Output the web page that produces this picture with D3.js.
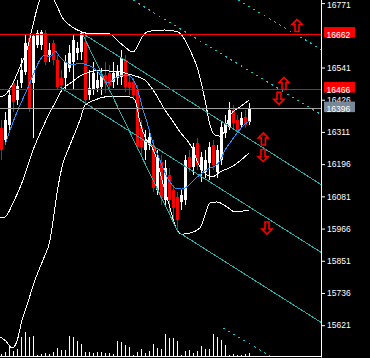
<!DOCTYPE html>
<html><head><meta charset="utf-8">
<script src="https://cdn.jsdelivr.net/npm/d3@7"></script>
<style>html,body{margin:0;padding:0;background:#000;overflow:hidden}</style>
</head><body><svg id="c" width="370" height="358"></svg>
<script>
// ---- data (prices) ----
const opens  = [16325,16282,16336,16486,16425,16486,16525,16646,16486,16621,16621,16664,16586,16628,16568,16504,16504,16539,16561,16593,16596,16632,16443,16461,16468,16471,16514,16521,16489,16504,16507,16568,16489,16489,16461,16329,16246,16264,16264,16104,16204,16068,16157,16104,16079,16061,16068,16221,16186,16271,16175,16168,16200,16264,16168,16211,16307,16329,16389,16354,16336,16364,16346];
const highs  = [16354,16382,16461,16496,16496,16575,16657,16657,16661,16675,16675,16675,16628,16639,16586,16532,16586,16621,16657,16632,16671,16664,16532,16561,16532,16539,16561,16550,16561,16550,16604,16586,16514,16504,16479,16354,16318,16318,16282,16246,16229,16211,16182,16121,16096,16104,16229,16246,16271,16289,16239,16246,16275,16282,16264,16346,16371,16418,16407,16371,16382,16389,16414];
const lows   = [16211,16264,16318,16382,16407,16468,16514,16382,16289,16611,16604,16550,16561,16550,16461,16461,16461,16525,16461,16568,16568,16414,16425,16443,16454,16443,16450,16454,16468,16479,16479,16454,16443,16425,16246,16229,16211,16246,16096,16086,16050,16050,16014,15989,15954,16032,16050,16168,16157,16175,16132,16146,16139,16175,16146,16193,16289,16318,16325,16307,16325,16325,16336];
const closes = [16246,16354,16443,16418,16475,16532,16628,16396,16653,16664,16668,16561,16604,16568,16471,16479,16561,16593,16639,16611,16664,16425,16468,16521,16496,16514,16486,16479,16521,16525,16575,16471,16468,16443,16257,16257,16282,16293,16111,16221,16075,16182,16068,16039,15996,16086,16211,16186,16257,16193,16221,16211,16257,16193,16246,16329,16343,16389,16343,16318,16361,16336,16396];
const volumes = [200,400,900,500,700,1900,2400,1900,2000,100,200,300,200,400,800,600,600,2000,1900,1500,1200,400,400,300,400,400,300,300,200,1500,1400,1100,900,100,400,700,300,500,1200,800,700,2200,1800,1800,1500,100,500,600,300,500,1000,700,700,2200,1900,1600,1100,100,200,100,100,200,300];

// Bollinger upper / middle / lower and moving average: [bar index, price]
const bandUpper = [[-0.25,16436],[1,16443],[3,16486],[4.75,16543],[6.5,16604],[8,16693],[9.25,16764],[10.25,16803],[11.75,16811],[13,16789],[14.25,16753],[15.25,16721],[17.75,16686],[20.25,16668],[22.25,16661],[27.25,16661],[29,16639],[31,16614],[33,16596],[34,16614],[35.25,16650],[37.25,16671],[41,16675],[44.25,16668],[46,16639],[47.25,16603],[49.25,16532],[51,16425],[52.25,16336],[53.5,16300],[54.75,16296],[56,16318],[57.25,16371],[59.75,16400],[62,16425]];
const bandMiddle = [[-0.25,16004],[1,16007],[3,16057],[5.5,16139],[8,16246],[10.5,16329],[12.25,16382],[13.5,16414],[14.75,16450],[16,16471],[17.75,16489],[19.75,16511],[22.25,16525],[24.75,16532],[27.25,16528],[29.75,16525],[32.75,16514],[36,16496],[38.5,16450],[41,16389],[42.75,16354],[44.75,16311],[47.75,16254],[49.25,16200],[51,16164],[52.75,16150],[54.75,16168],[58,16189],[62,16236]];
const bandLower = [[-0.25,15579],[1.25,15564],[2.75,15539],[4,15564],[5.25,15639],[6.5,15693],[8.5,15782],[10.5,15854],[12.25,15925],[13.5,16043],[14.25,16114],[15.25,16186],[17.25,16264],[19.75,16354],[21,16407],[23.5,16425],[26,16436],[29.25,16439],[32.25,16436],[33.5,16425],[34.75,16346],[36,16293],[37.75,16257],[39,16211],[40.25,16139],[41.5,16079],[42.75,16014],[44,15961],[45.25,15946],[47.25,15950],[49.75,15968],[51,16014],[52.25,16057],[54,16061],[56.5,16043],[58.5,16025],[60.25,16028],[62,16032]];
const movingAvg = [[1,16264],[3,16346],[4.75,16407],[6.5,16461],[8,16514],[9.75,16568],[11,16586],[12.25,16578],[13.5,16600],[14.75,16578],[16.5,16557],[17.75,16550],[19.75,16557],[21.5,16550],[22.75,16543],[24.25,16525],[25.5,16503],[26.5,16486],[27.25,16489],[28.5,16503],[30.25,16514],[31.5,16514],[32.75,16503],[33.5,16486],[34.75,16432],[35.5,16389],[36.5,16346],[37.25,16307],[38,16271],[39.25,16228],[40.5,16182],[42.25,16132],[43.5,16111],[45.25,16107],[46.75,16118],[48.5,16143],[50.25,16164],[52.25,16182],[53.5,16189],[54.75,16207],[56,16246],[57.75,16282],[59.25,16311],[61,16339],[62.25,16350]];

// trend lines: [startIndex, startPrice, endIndex, endPrice]
const solidTrends  = [[20.25,16664,80.25,16121],[20.25,16664,44.25,15954],[14.75,16471,80.25,15879],[44.25,15954,80.25,15629]];
const dashedTrends = [[33,16782,80.25,16371],[59.25,16782,80.25,16604],[55.5,15611,67.25,15511]];

const levelPrices = [16662, 16466];
const bidPrice = 16396;
const tickValues = [16771,16541,16426,16311,16196,16081,15966,15851,15736,15621];

const arrowIdx   = [74, 70.75, 69.5, 65.6, 65.5, 66.5];
const arrowPrice = [16691, 16484, 16431, 16286, 16227, 15968];
const arrowDir   = ["up","up","down","up","down","down"];

// ---- drawing ----
const svg = d3.select("#c");
svg.append("rect").attr("width",370).attr("height",358).attr("fill","#000");
const x = d3.scaleLinear().domain([0,80]).range([1,321]);
const y = d3.scaleLinear().domain([15511,16782]).range([356,0]);
const vh = d3.scaleLinear().domain([0,2400]).range([0,24]);

svg.append("defs").append("clipPath").attr("id","plot")
  .append("rect").attr("x",0).attr("y",0).attr("width",321).attr("height",356);
const g = svg.append("g").attr("clip-path","url(#plot)").attr("shape-rendering","crispEdges");

const cx = i => Math.round(x(i));
const idx = d3.range(opens.length);

// volume
g.selectAll("line.vol").data(volumes).join("line").attr("class","vol")
  .attr("x1",(d,i)=>cx(i)+0.5).attr("x2",(d,i)=>cx(i)+0.5)
  .attr("y1",356).attr("y2",d=>356-vh(d)).attr("stroke","#fff");

// candles
const col = i => closes[i] >= opens[i] ? "#ffffff" : "#ff0000";
g.selectAll("line.wick").data(idx).join("line").attr("class","wick")
  .attr("x1",i=>cx(i)+0.5).attr("x2",i=>cx(i)+0.5)
  .attr("y1",i=>y(highs[i])).attr("y2",i=>y(lows[i])).attr("stroke",col);
g.selectAll("rect.body").data(idx).join("rect").attr("class","body")
  .attr("x",i=>cx(i)-1).attr("width",3)
  .attr("y",i=>y(Math.max(opens[i],closes[i])))
  .attr("height",i=>Math.max(1,Math.abs(y(opens[i])-y(closes[i]))))
  .attr("fill",col);

// indicators
const ln = d3.line().x(d=>x(d[0])).y(d=>y(d[1])).curve(d3.curveMonotoneX);
[bandUpper,bandMiddle,bandLower].forEach(b=>{
  g.append("path").attr("d",ln(b)).attr("fill","none").attr("stroke","#fff").attr("stroke-width",1);
});
g.append("path").attr("d",ln(movingAvg)).attr("fill","none").attr("stroke","#1e90ff").attr("stroke-width",1);

// trend lines
g.selectAll("line.st").data(solidTrends).join("line").attr("class","st")
  .attr("x1",d=>x(d[0])).attr("y1",d=>y(d[1])).attr("x2",d=>x(d[2])).attr("y2",d=>y(d[3]))
  .attr("stroke","#20b2aa").attr("stroke-width",1);
g.selectAll("line.dt").data(dashedTrends).join("line").attr("class","dt")
  .attr("x1",d=>x(d[0])).attr("y1",d=>y(d[1])).attr("x2",d=>x(d[2])).attr("y2",d=>y(d[3]))
  .attr("stroke","#00cccc").attr("stroke-width",1).attr("stroke-dasharray","2,4");

// horizontal levels
g.selectAll("line.lvl").data(levelPrices).join("line").attr("class","lvl")
  .attr("x1",0).attr("x2",321).attr("y1",d=>Math.round(y(d))+0.5).attr("y2",d=>Math.round(y(d))+0.5)
  .attr("stroke","#ff0000");
g.append("line").attr("x1",0).attr("x2",321)
  .attr("y1",Math.round(y(bidPrice))+0.5).attr("y2",Math.round(y(bidPrice))+0.5)
  .attr("stroke","#a0a0a0");

// arrows
const upPath = "M0,-6 L5,-1 L2,-1 L2,6 L-2,6 L-2,-1 L-5,-1 Z";
g.selectAll("path.arr").data(d3.range(arrowIdx.length)).join("path").attr("class","arr")
  .attr("d",upPath)
  .attr("transform",i=>`translate(${x(arrowIdx[i])},${y(arrowPrice[i])})${arrowDir[i]==="down"?" scale(1,-1)":""}`)
  .attr("fill","none").attr("stroke","#ff0000").attr("stroke-width",1.6)
  .attr("shape-rendering","auto");

// axes
const font = "'Liberation Sans', Arial, sans-serif";
const ax = svg.append("g").attr("transform","translate(321,0)")
  .call(d3.axisRight(y).tickValues(tickValues).tickSize(4).tickSizeOuter(0).tickPadding(2).tickFormat(d3.format("d")));
ax.select(".domain").attr("stroke","#fff").attr("d","M0.5,0V357.5");
ax.selectAll(".tick line").attr("stroke","#fff");
ax.selectAll(".tick text").attr("fill","#fff").style("font-family",font).style("font-size","8.5px")
  .attr("dy",d=>d===tickValues[0]?"0.55em":"0.32em");
svg.append("line").attr("x1",0).attr("x2",322).attr("y1",356.5).attr("y2",356.5).attr("stroke","#fff");

// price labels
const boxes = [[levelPrices[0],"#ff0000"],[levelPrices[1],"#ff0000"],[bidPrice,"#778899"]];
boxes.forEach(([v,c])=>{
  const yy = y(v);
  svg.append("rect").attr("x",324).attr("y",yy-6.5).attr("width",31).attr("height",10.5).attr("fill",c);
  svg.append("text").attr("x",326.5).attr("y",yy+1.3).attr("dy","0.32em").text(v)
    .attr("fill","#fff").style("font-family",font).style("font-size","8.5px");
});
</script>
</body></html>
